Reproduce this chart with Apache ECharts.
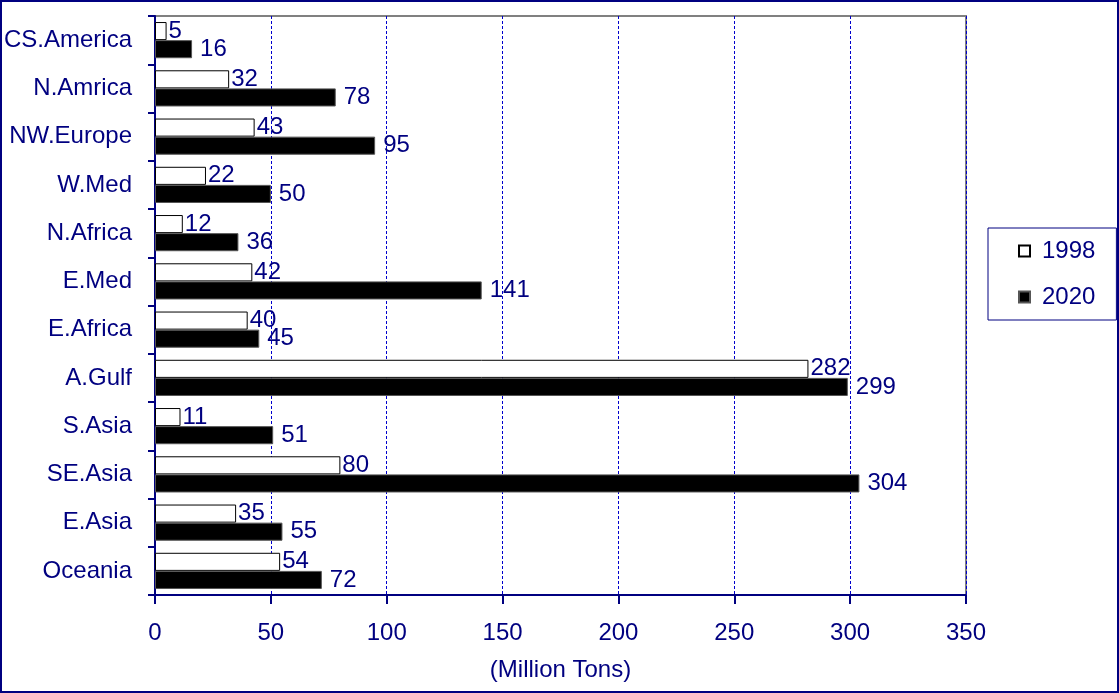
<!DOCTYPE html>
<html>
<head>
<meta charset="utf-8">
<script src="https://cdn.jsdelivr.net/npm/echarts@6/dist/echarts.min.js"></script>
<style>
  html, body { margin: 0; padding: 0; background: #fff; }
  #chart { width: 1119px; height: 693px; }
</style>
</head>
<body>
<div id="chart"></div>
<script>
const regions = ['CS.America', 'N.Amrica', 'NW.Europe', 'W.Med', 'N.Africa', 'E.Med',
  'E.Africa', 'A.Gulf', 'S.Asia', 'SE.Asia', 'E.Asia', 'Oceania']
const values1998 = [5, 32, 43, 22, 12, 42, 40, 282, 11, 80, 35, 54]
const values2020 = [16, 78, 95, 50, 36, 141, 45, 299, 51, 304, 55, 72]
const xTicks = [0, 350, 50]  // min, max, interval

const navy = '#000080'
const font = 'Liberation Sans, Arial, sans-serif'

const chart = echarts.init(document.getElementById('chart'))
chart.setOption({
  animation: false,
  textStyle: { fontFamily: font },
  graphic: [{
    type: 'rect',
    shape: { x: 1, y: 1, width: 1117, height: 691 },
    style: { fill: 'none', stroke: navy, lineWidth: 2 }
  }],
  grid: {
    left: 155,
    right: 153,
    top: 16,
    bottom: 98,
    show: true,
    borderColor: '#808080',
    borderWidth: 2
  },
  legend: {
    orient: 'vertical',
    left: 988,
    top: 228,
    padding: [11, 21, 11, 30],
    borderColor: navy,
    borderWidth: 1,
    itemWidth: 11,
    itemHeight: 11,
    itemGap: 22,
    icon: 'rect',
    textStyle: { color: navy, fontSize: 24, lineHeight: 24, padding: [0, 0, 0, 7], fontFamily: font },
    data: ['1998', '2020']
  },
  xAxis: {
    type: 'value',
    min: xTicks[0],
    max: xTicks[1],
    interval: xTicks[2],
    name: '(Million Tons)',
    nameLocation: 'middle',
    nameGap: 63,
    nameTextStyle: { color: navy, fontSize: 24, fontFamily: font },
    axisLine: { show: true, lineStyle: { color: navy, width: 2 } },
    axisTick: { show: true, length: 9, lineStyle: { color: navy, width: 2 } },
    axisLabel: { color: navy, fontSize: 24, margin: 26, fontFamily: font },
    splitLine: { show: true, lineStyle: { color: '#0000cc', type: [3, 2], width: 1 } }
  },
  yAxis: {
    type: 'category',
    data: regions,
    inverse: true,
    axisLine: { show: true, lineStyle: { color: navy, width: 2 } },
    axisTick: { show: true, length: 7, lineStyle: { color: navy, width: 2 } },
    axisLabel: { color: navy, fontSize: 24, margin: 23, fontFamily: font }
  },
  series: [
    {
      name: '1998',
      type: 'bar',
      data: values1998,
      barGap: '0%',
      barCategoryGap: '25%',
      itemStyle: { color: '#ffffff', borderColor: '#000000', borderWidth: 1 },
      label: { show: true, position: 'right', distance: 2, color: navy, fontSize: 24, fontFamily: font }
    },
    {
      name: '2020',
      type: 'bar',
      data: values2020,
      barGap: '0%',
      barCategoryGap: '25%',
      itemStyle: { color: '#000000', borderColor: '#555555', borderWidth: 1 },
      label: { show: true, position: 'right', distance: 8, color: navy, fontSize: 24, fontFamily: font }
    }
  ]
})
</script>
</body>
</html>
